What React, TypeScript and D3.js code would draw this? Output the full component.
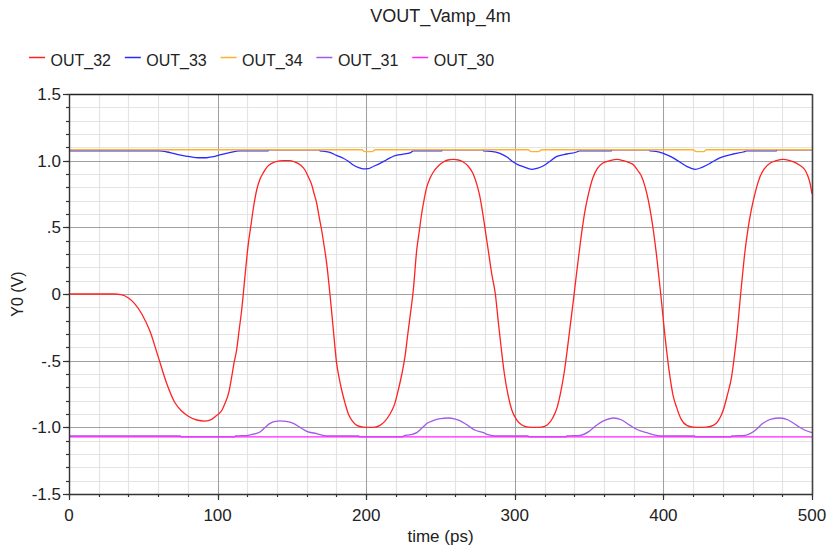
import React from "react";
import * as d3 from "d3";

const TITLE = "VOUT_Vamp_4m";
const X_LABEL = "time (ps)";
const Y_LABEL = "Y0 (V)";
const SERIES_NAMES = ["OUT_32", "OUT_33", "OUT_34", "OUT_31", "OUT_30"];
const SERIES_COLORS = ["#ff2222", "#2a2aff", "#ffb22e", "#a35ae6", "#ff22ff"];

const X_TICKS = [0, 100, 200, 300, 400, 500];
const X_TICK_LABELS = ["0", "100", "200", "300", "400", "500"];
const Y_TICKS = [-1.5, -1.0, -0.5, 0, 0.5, 1.0, 1.5];
const Y_TICK_LABELS = ["-1.5", "-1.0", "-.5", "0", ".5", "1.0", "1.5"];

// OUT_32 (red)
const out32: [number, number][] = [
  [0, 0], [30, 0], [35, -0.005], [40, -0.03], [44, -0.07], [49, -0.15], [54.5, -0.28], [60, -0.47],
  [65.7, -0.67], [71, -0.81], [76, -0.88], [80, -0.915], [86, -0.945], [91.5, -0.953], [96, -0.94],
  [99.5, -0.91], [103, -0.87], [105, -0.82], [107.5, -0.74], [109.5, -0.62], [111, -0.52], [112.8, -0.42],
  [114.5, -0.27], [116.2, -0.12], [118.4, 0.13], [120.7, 0.38], [122.5, 0.52], [124.3, 0.66], [126.3, 0.78],
  [128.5, 0.86], [130.8, 0.91], [133.5, 0.955], [136.4, 0.98], [140, 0.995], [144, 1.0], [148, 1.0],
  [152, 0.99], [155.5, 0.97], [158.8, 0.93], [161, 0.88], [163.3, 0.82], [165, 0.75], [166.7, 0.68],
  [168.3, 0.58], [170, 0.48], [171.7, 0.36], [173.4, 0.23], [175.6, 0.0], [177.9, -0.27], [180.1, -0.52],
  [181.8, -0.63], [183.5, -0.72], [185.8, -0.82], [188, -0.9], [190.5, -0.95], [193.6, -0.985], [198, -0.998],
  [202.6, -1.0], [206, -0.998], [209.3, -0.985], [212.5, -0.955], [216, -0.9], [219, -0.83], [221.6, -0.72],
  [224, -0.6], [226.1, -0.47], [228, -0.3], [229.5, -0.17], [231.7, 0.03], [234, 0.33], [235.7, 0.47],
  [237.3, 0.6], [239, 0.71], [240.7, 0.8], [243, 0.87], [245.2, 0.915], [248.5, 0.96], [251.9, 0.99],
  [255, 1.005], [258.6, 1.01], [262, 1.005], [265.3, 0.99], [268.5, 0.96], [272, 0.9], [274.5, 0.82],
  [276.5, 0.73], [278.5, 0.6], [280.5, 0.45], [282.5, 0.3], [284.5, 0.15], [286.9, 0.0], [289, -0.22],
  [291, -0.42], [293, -0.6], [295.5, -0.76], [298, -0.87], [301, -0.94], [304.5, -0.98], [309, -0.998],
  [313.5, -1.0], [318, -0.998], [322, -0.98], [325.5, -0.93], [328.5, -0.85], [331, -0.73], [333.5, -0.57],
  [335.5, -0.4], [337.5, -0.22], [339.5, -0.04], [341.5, 0.15], [343.5, 0.33], [345.5, 0.5], [347.5, 0.64],
  [350, 0.77], [352.5, 0.87], [355.5, 0.94], [359, 0.98], [364, 1.0], [369, 1.01], [373, 1.0], [377, 0.985],
  [379.8, 0.97], [382.5, 0.93], [385.4, 0.88], [387.8, 0.8], [389.9, 0.7], [391.7, 0.59], [393.2, 0.48],
  [395.5, 0.28], [398.2, 0.0], [401.1, -0.32], [404.4, -0.62], [406.5, -0.76], [408.9, -0.85], [412, -0.94],
  [415.7, -0.985], [420, -0.998], [424.6, -1.0], [429, -0.998], [433.6, -0.985], [437, -0.95], [440.3, -0.87],
  [443, -0.76], [445.9, -0.62], [447.6, -0.48], [449.3, -0.32], [452, 0.0], [455, 0.33], [457.1, 0.5],
  [458.8, 0.61], [460.5, 0.7], [462.7, 0.8], [465, 0.88], [468, 0.94], [471.7, 0.98], [476, 1.0],
  [480.7, 1.01], [485, 1.0], [489.7, 0.98], [492.5, 0.96], [495.3, 0.93], [497, 0.89], [498.7, 0.83], [500, 0.75],
];

// OUT_33 (blue)
const out33: [number, number][] = [
  [0, 1.073], [61, 1.073], [66, 1.065], [70, 1.055], [76, 1.04], [81.4, 1.03], [87, 1.022], [92.7, 1.022],
  [97, 1.03], [101.6, 1.043], [108, 1.06], [115, 1.073], [134, 1.073], [134.5, 1.082], [168.5, 1.082],
  [169, 1.073], [172, 1.07], [175.6, 1.062], [180, 1.04], [184.6, 1.018], [188, 0.995], [191.3, 0.968],
  [195, 0.948], [198, 0.938], [201.4, 0.94], [205, 0.958], [209.3, 0.98], [213.5, 1.005], [218.2, 1.033],
  [224, 1.048], [229.5, 1.058], [231.7, 1.073], [250.8, 1.073], [251.2, 1.082], [278.5, 1.082], [279, 1.073],
  [284, 1.07], [290, 1.055], [295, 1.025], [299, 0.99], [302, 0.97], [305.7, 0.955], [311.4, 0.935],
  [315, 0.943], [319, 0.96], [323, 0.99], [328, 1.03], [335, 1.05], [341.7, 1.065], [343.5, 1.073],
  [365, 1.073], [365.5, 1.082], [390.5, 1.082], [391, 1.073], [395, 1.07], [400, 1.055], [405, 1.03],
  [411, 0.99], [416, 0.955], [421.3, 0.935], [426, 0.95], [431.4, 0.98], [436, 1.01], [440.3, 1.03],
  [447, 1.05], [453.8, 1.065], [456, 1.073], [476, 1.073], [476.5, 1.082], [500, 1.082],
];

// OUT_34 (orange)
const out34: [number, number][] = [
  [0, 1.082], [197, 1.082], [199, 1.068], [204, 1.068], [206, 1.082], [309, 1.082], [311, 1.068],
  [316, 1.068], [318, 1.082], [420, 1.082], [422, 1.068], [427, 1.068], [429, 1.082], [500, 1.082],
];

// OUT_31 (purple)
const out31: [number, number][] = [
  [0, -1.065], [75, -1.065], [75.5, -1.072], [111.5, -1.072], [112, -1.065], [120.7, -1.06], [124.5, -1.05],
  [128.5, -1.035], [132, -1.0], [135.3, -0.97], [139, -0.955], [142, -0.952], [146, -0.955], [151, -0.97],
  [155.5, -1.0], [160, -1.03], [166.7, -1.047], [173.4, -1.065], [195, -1.065], [195.5, -1.072],
  [224.5, -1.072], [225, -1.065], [230, -1.055], [234, -1.04], [238, -1.0], [241, -0.97], [245, -0.95],
  [250, -0.935], [255, -0.93], [260, -0.938], [263, -0.95], [267.6, -0.98], [273, -1.02], [278.8, -1.04],
  [282, -1.055], [287, -1.065], [309, -1.065], [309.5, -1.072], [334.5, -1.072], [335, -1.065], [344, -1.06],
  [350, -1.03], [355, -0.985], [360, -0.95], [366.3, -0.93], [372, -0.945], [377.5, -0.985], [383, -1.02],
  [388.7, -1.04], [393, -1.055], [398, -1.065], [421, -1.065], [421.5, -1.072], [445.5, -1.072],
  [446, -1.065], [455, -1.06], [461, -1.03], [467, -0.97], [472, -0.94], [478.5, -0.93], [484, -0.945],
  [489.7, -0.985], [495, -1.02], [500, -1.04],
];

// OUT_30 (magenta)
const out30: [number, number][] = [[0, -1.072], [500, -1.072]];

const SERIES = [out32, out33, out34, out31, out30];

const W = 830;
const H = 549;
const LEFT = 69;
const RIGHT = 812;
const TOP = 94;
const BOTTOM = 494;
const FONT = "'Liberation Sans', Arial, sans-serif";

export default function App() {
  const x = d3.scaleLinear().domain([0, 500]).range([LEFT, RIGHT]);
  const y = d3.scaleLinear().domain([-1.5, 1.5]).range([BOTTOM, TOP]);
  const minorX = d3.range(0, 501, 20);
  const minorY = d3.range(-15, 16, 1).map((v) => v / 10);
  const line = d3
    .line<[number, number]>()
    .x((d) => x(d[0]))
    .y((d) => y(d[1]))
    .curve(d3.curveMonotoneX);
  const px = (v: number) => Math.round(v) + 0.5;

  return (
    <svg
      width={W}
      height={H}
      style={{ position: "absolute", left: 0, top: 0, display: "block", background: "#fff" }}
    >
      <rect x={0} y={0} width={W} height={H} fill="#fff" />
      {/* minor grid */}
      {minorX.map((t) => (
        <line key={"mx" + t} x1={px(x(t))} x2={px(x(t))} y1={TOP} y2={BOTTOM} stroke="#e4e4e4" strokeWidth={1.2} />
      ))}
      {minorY.map((v) => (
        <line key={"my" + v} x1={LEFT} x2={RIGHT} y1={px(y(v))} y2={px(y(v))} stroke="#e4e4e4" strokeWidth={1.2} />
      ))}
      {/* major grid */}
      {X_TICKS.map((t) => (
        <line key={"Mx" + t} x1={px(x(t))} x2={px(x(t))} y1={TOP} y2={BOTTOM} stroke="#a0a0a0" strokeWidth={1} />
      ))}
      {Y_TICKS.map((v) => (
        <line key={"My" + v} x1={LEFT} x2={RIGHT} y1={px(y(v))} y2={px(y(v))} stroke="#a0a0a0" strokeWidth={1} />
      ))}
      {/* series */}
      {SERIES.map((s, i) => (
        <path key={"s" + i} d={line(s) || ""} fill="none" stroke={SERIES_COLORS[i]} strokeWidth={1.3} />
      ))}
      {/* frame */}
      <line x1={LEFT} x2={RIGHT} y1={px(TOP)} y2={px(TOP)} stroke="#222" strokeWidth={1.4} />
      <line x1={px(RIGHT)} x2={px(RIGHT)} y1={TOP} y2={BOTTOM} stroke="#444" strokeWidth={1.6} />
      <line x1={px(LEFT)} x2={px(LEFT)} y1={TOP} y2={BOTTOM + 1} stroke="#333" strokeWidth={1.4} />
      <line x1={LEFT} x2={RIGHT} y1={px(BOTTOM)} y2={px(BOTTOM)} stroke="#333" strokeWidth={1.4} />
      {/* y ticks */}
      {minorY.map((v) => (
        <line key={"ty" + v} x1={LEFT - 3} x2={LEFT} y1={px(y(v))} y2={px(y(v))} stroke="#333" strokeWidth={1.2} />
      ))}
      {Y_TICKS.map((v) => (
        <line key={"tY" + v} x1={LEFT - 6} x2={LEFT} y1={px(y(v))} y2={px(y(v))} stroke="#333" strokeWidth={1.2} />
      ))}
      {Y_TICKS.map((v, i) => (
        <text key={"ly" + v} x={LEFT - 8} y={y(v)} dy="0.36em" textAnchor="end" fontFamily={FONT} fontSize={17} fill="#222">
          {Y_TICK_LABELS[i]}
        </text>
      ))}
      {/* x ticks */}
      {minorX.map((t) => (
        <line key={"tx" + t} x1={px(x(t))} x2={px(x(t))} y1={BOTTOM} y2={BOTTOM + 3} stroke="#333" strokeWidth={1.2} />
      ))}
      {X_TICKS.map((t) => (
        <line key={"tX" + t} x1={px(x(t))} x2={px(x(t))} y1={BOTTOM} y2={BOTTOM + 6} stroke="#333" strokeWidth={1.2} />
      ))}
      {X_TICKS.map((t, i) => (
        <text key={"lx" + t} x={x(t)} y={521} textAnchor="middle" fontFamily={FONT} fontSize={17} fill="#222">
          {X_TICK_LABELS[i]}
        </text>
      ))}
      {/* axis titles */}
      <text x={(LEFT + RIGHT) / 2} y={542} textAnchor="middle" fontFamily={FONT} fontSize={17} fill="#222">
        {X_LABEL}
      </text>
      <text
        transform={`translate(23, ${(TOP + BOTTOM) / 2}) rotate(-90)`}
        textAnchor="middle"
        fontFamily={FONT}
        fontSize={16}
        fill="#222"
      >
        {Y_LABEL}
      </text>
      {/* title */}
      <text x={(LEFT + RIGHT) / 2} y={22} textAnchor="middle" fontFamily={FONT} fontSize={18} fill="#222">
        {TITLE}
      </text>
      {/* legend */}
      {SERIES_NAMES.map((name, i) => (
        <g key={"lg" + name} transform={`translate(${29 + i * 95.8}, 0)`}>
          <line x1={0} x2={16} y1={57.5} y2={57.5} stroke={SERIES_COLORS[i]} strokeWidth={1.5} />
          <text x={21.5} y={66} fontFamily={FONT} fontSize={16} fill="#222">
            {name}
          </text>
        </g>
      ))}
    </svg>
  );
}
